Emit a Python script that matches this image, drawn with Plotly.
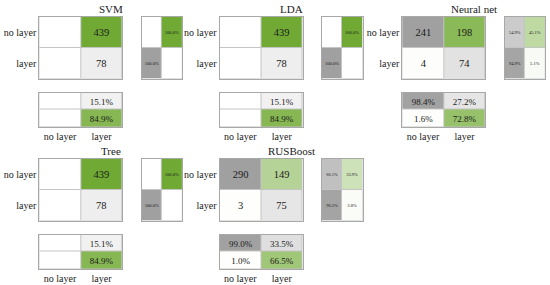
import plotly.graph_objects as go

# ---------------- data ----------------
classes = ["no layer", "layer"]
titles = ["SVM", "LDA", "Neural net", "Tree", "RUSBoost"]
svm_counts = [[0, 439], [0, 78]]
lda_counts = [[0, 439], [0, 78]]
nnet_counts = [[241, 198], [4, 74]]
tree_counts = [[0, 439], [0, 78]]
rusboost_counts = [[290, 149], [3, 75]]
matrices = [svm_counts, lda_counts, nnet_counts, tree_counts, rusboost_counts]

# ---------------- style ----------------
W, H = 550, 285
GRAY = "rgb(160,160,160)"
GREEN = "rgb(112,170,52)"
FONT = "Liberation Serif, Times New Roman, Times, serif"
TXT = "#1a1a1a"
anchors = [(39.3, 17), (219.5, 17), (402.3, 17), (39.3, 159), (219.5, 159)]
MW, MH = 83, 61.5          # main matrix size
RS_DX, RS_W = 102.5, 40.5  # row summary offset / width
CS_DY, CS_H = 75.5, 34.5   # column summary offset / height

fig = go.Figure()
layout = {}
axis_count = [0]


def dom(x0, y0, w, h):
    return [x0 / W, (x0 + w) / W], [1 - (y0 + h) / H, 1 - y0 / H]


def add_axes(x0, y0, w, h, ylabels=False, xlabels=False):
    axis_count[0] += 1
    k = axis_count[0]
    xd, yd = dom(x0, y0, w, h)
    sx = "" if k == 1 else str(k)
    common = dict(showgrid=False, zeroline=False, showline=True, mirror=True,
                  linecolor="#a8a8a8", linewidth=1, ticks="", fixedrange=True)
    layout["xaxis" + sx] = dict(domain=xd, anchor="y" + sx, range=[-0.5, 1.5],
                                tickvals=[0, 1], ticktext=classes,
                                showticklabels=xlabels,
                                tickfont=dict(family=FONT, size=10, color=TXT),
                                **common)
    layout["yaxis" + sx] = dict(domain=yd, anchor="x" + sx, range=[1.5, -0.5],
                                tickvals=[0, 1], ticktext=classes,
                                showticklabels=ylabels,
                                tickfont=dict(family=FONT, size=10, color=TXT),
                                **common)
    return "x" + sx, "y" + sx


def add_cells(xa, ya, fracs, texts, is_gray, size):
    for gray in (True, False):
        z = [[(fracs[i][j] if is_gray[i][j] == gray else None) for j in range(2)] for i in range(2)]
        t = [[(texts[i][j] if is_gray[i][j] == gray else "") for j in range(2)] for i in range(2)]
        fig.add_trace(go.Heatmap(
            x=[0, 1], y=[0, 1], z=z, text=t, texttemplate="%{text}",
            textfont=dict(family=FONT, size=size, color=TXT),
            colorscale=[[0, "white"], [1, GRAY if gray else GREEN]],
            zmin=0, zmax=1, showscale=False, xgap=1, ygap=1,
            hoverinfo="skip", xaxis=xa, yaxis=ya))


def pct(v):
    return f"{v:.1f}%"


annotations = []
for m, title, (ax0, ay0) in zip(matrices, titles, anchors):
    mx = max(max(r) for r in m)
    # main matrix: diagonal gray, off-diagonal green
    xa, ya = add_axes(ax0, ay0, MW, MH, ylabels=True)
    fr = [[m[i][j] / mx for j in range(2)] for i in range(2)]
    tx = [[(str(m[i][j]) if m[i][j] else "") for j in range(2)] for i in range(2)]
    add_cells(xa, ya, fr, tx, [[True, False], [False, True]], 10.5)

    # row summary: [correct, incorrect] per true class
    xa, ya = add_axes(ax0 + RS_DX, ay0, RS_W, MH)
    rfr, rtx = [], []
    for i in range(2):
        tot = sum(m[i])
        c = m[i][i] / tot * 100 if tot else 0
        w = (tot - m[i][i]) / tot * 100 if tot else 0
        rfr.append([c / 100, w / 100])
        rtx.append([pct(c) if c else "", pct(w) if w else ""])
    add_cells(xa, ya, rfr, rtx, [[True, False], [True, False]], 4.5)

    # column summary: rows [correct, incorrect] per predicted class
    xa, ya = add_axes(ax0, ay0 + CS_DY, MW, CS_H, xlabels=True)
    cfr = [[0, 0], [0, 0]]
    ctx = [["", ""], ["", ""]]
    for j in range(2):
        tot = m[0][j] + m[1][j]
        c = m[j][j] / tot * 100 if tot else 0
        w = (tot - m[j][j]) / tot * 100 if tot else 0
        cfr[0][j], cfr[1][j] = c / 100, w / 100
        ctx[0][j] = pct(c) if c else ""
        ctx[1][j] = pct(w) if w else ""
    add_cells(xa, ya, cfr, ctx, [[True, True], [False, False]], 9)

    # title centred over main + row summary
    cx = (ax0 + ax0 + RS_DX + RS_W) / 2
    annotations.append(dict(x=cx / W, y=1 - (ay0 - 8) / H, xref="paper", yref="paper",
                            text=title, showarrow=False, xanchor="center", yanchor="middle",
                            font=dict(family=FONT, size=11, color=TXT)))

fig.update_layout(**layout)
fig.update_layout(width=W, height=H, margin=dict(l=0, r=0, t=0, b=0),
                  paper_bgcolor="white", plot_bgcolor="#c4c4c4",
                  font=dict(family=FONT, color=TXT),
                  showlegend=False, annotations=annotations)
fig.write_html("out.html", config={"displayModeBar": False},
               post_script="document.body.style.margin='0';document.body.style.padding='0';")
